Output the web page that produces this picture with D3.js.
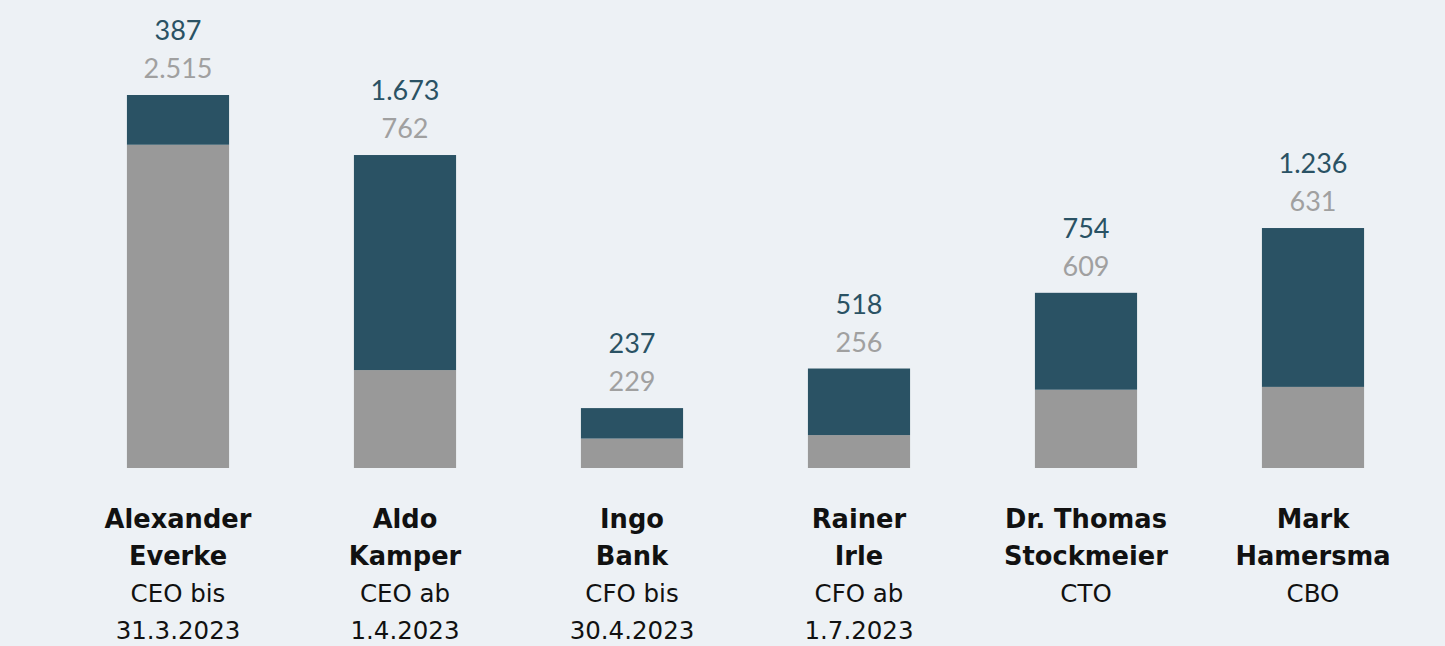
<!DOCTYPE html>
<html>
<head>
<meta charset="utf-8">
<script src="https://cdn.jsdelivr.net/npm/d3@7"></script>
<style>
  html, body { margin: 0; padding: 0; background: #edf1f5; }
  svg { display: block; font-family: "Lato", "Noto Sans", sans-serif; }
</style>
</head>
<body>
<div id="chart"></div>
<script>
// data
var names = [["Alexander", "Everke"], ["Aldo", "Kamper"], ["Ingo", "Bank"],
             ["Rainer", "Irle"], ["Dr. Thomas", "Stockmeier"], ["Mark", "Hamersma"]];
var roles = [["CEO bis", "31.3.2023"], ["CEO ab", "1.4.2023"], ["CFO bis", "30.4.2023"],
             ["CFO ab", "1.7.2023"], ["CTO"], ["CBO"]];
var baseValues = [2515, 762, 229, 256, 609, 631];   // grey, bottom
var topValues = [387, 1673, 237, 518, 754, 1236];   // dark blue, top

var fmt = function(v) { return d3.format(",")(v).replace(/,/g, "."); };

// dimensions
var width = 1445, height = 646;
var svg = d3.select("#chart").append("svg")
  .attr("width", width)
  .attr("height", height);

svg.append("rect").attr("width", width).attr("height", height).attr("fill", "#edf1f5");

// scales
var idx = d3.range(names.length);
var x = d3.scaleBand()
  .domain(idx)
  .range([64.5, 1426.5])
  .paddingInner(0.55)
  .paddingOuter(0.275);
var maxTotal = d3.max(idx, function(i) { return baseValues[i] + topValues[i]; });
var y = d3.scaleLinear()
  .domain([0, maxTotal])
  .range([468, 95]);

var g = svg.selectAll("g.bar").data(idx).enter().append("g")
  .attr("class", "bar");

// grey bottom
g.append("rect")
  .attr("x", function(i) { return x(i); })
  .attr("width", x.bandwidth())
  .attr("y", function(i) { return y(baseValues[i]); })
  .attr("height", function(i) { return y(0) - y(baseValues[i]); })
  .attr("fill", "#999999");

// blue top
g.append("rect")
  .attr("x", function(i) { return x(i); })
  .attr("width", x.bandwidth())
  .attr("y", function(i) { return y(baseValues[i] + topValues[i]); })
  .attr("height", function(i) { return y(baseValues[i]) - y(baseValues[i] + topValues[i]); })
  .attr("fill", "#2a5264");

// value labels
g.append("text")
  .attr("x", function(i) { return x(i) + x.bandwidth() / 2; })
  .attr("y", function(i) { return y(baseValues[i] + topValues[i]) - 55; })
  .attr("text-anchor", "middle")
  .attr("font-size", 27)
  .attr("fill", "#2a5264")
  .text(function(i) { return fmt(topValues[i]); });
g.append("text")
  .attr("x", function(i) { return x(i) + x.bandwidth() / 2; })
  .attr("y", function(i) { return y(baseValues[i] + topValues[i]) - 17; })
  .attr("text-anchor", "middle")
  .attr("font-size", 27)
  .attr("fill", "#a0a0a0")
  .text(function(i) { return fmt(baseValues[i]); });

// category labels
var lab = g.append("text")
  .attr("text-anchor", "middle")
  .attr("font-family", "'DejaVu Sans', sans-serif")
  .attr("fill", "#111111");
lab.each(function(i) {
  var t = d3.select(this), cx = x(i) + x.bandwidth() / 2;
  var lines = names[i].map(function(s) { return {s: s, b: true}; })
    .concat(roles[i].map(function(s) { return {s: s, b: false}; }));
  lines.forEach(function(l, k) {
    t.append("tspan")
      .attr("x", cx)
      .attr("y", 528 + k * 37)
      .attr("font-size", l.b ? 25.7 : 24.5)
      .attr("font-weight", l.b ? "bold" : "normal")
      .text(l.s);
  });
});
</script>
</body>
</html>
